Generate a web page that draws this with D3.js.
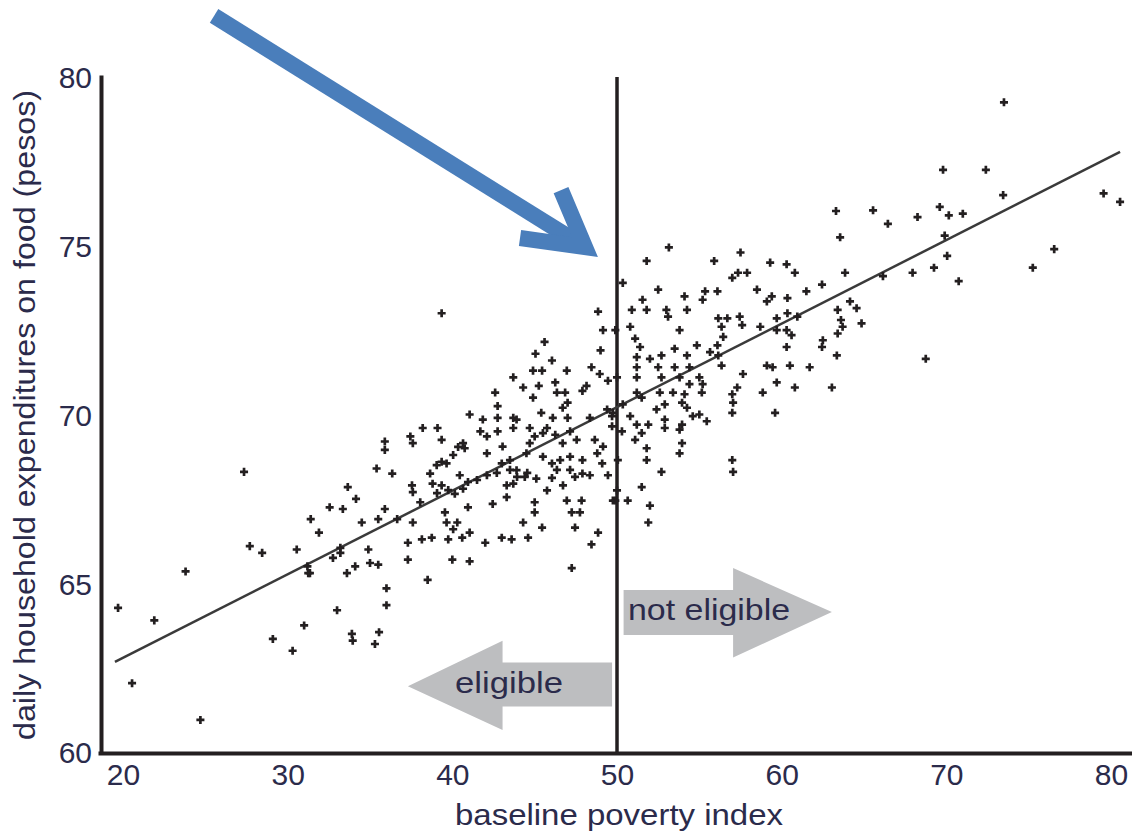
<!DOCTYPE html>
<html>
<head>
<meta charset="utf-8">
<script src="https://cdn.jsdelivr.net/npm/d3@7"></script>
<style>
  body { margin: 0; background: #fff; }
  text { font-family: "Liberation Sans", Arial, sans-serif; fill: #2b2b4b; }
</style>
</head>
<body>
<div id="chart"></div>
<script>
// values
var povertyIndex = [
  19.7, 20.55, 21.9, 23.8, 24.7, 27.35, 27.7, 28.45, 29.1, 30.3, 30.55, 31.0, 31.4, 31.9, 31.35, 32.55, 33.35, 33.65, 34.15, 33.0,
  33.9, 33.95, 33.6, 34.1, 34.9, 35.0, 35.5, 34.5, 35.5, 35.9, 35.55, 35.3, 35.4, 35.9, 35.9, 36.0, 36.0, 32.75, 33.2, 31.2,
  31.25, 33.2,
  39.35, 48.85, 49.15, 49.0, 45.6, 45.05, 46.05, 44.9, 45.45, 46.95, 43.7, 44.3, 44.9, 45.25, 46.25, 46.35, 46.85, 47.0, 46.7, 48.45,
  48.95, 48.15, 47.9, 49.45, 49.4, 49.7, 42.6, 42.75, 41.05, 41.85, 42.75, 43.7, 43.9, 45.4, 46.1, 47.0, 48.35, 41.7, 42.1, 42.75,
  43.7, 44.7, 45.0, 45.75, 46.25, 47.15, 47.55, 48.65, 49.15, 38.2, 39.1, 37.45, 37.6, 39.35, 40.65, 40.75, 43.05, 42.1, 44.7, 40.05,
  39.35, 39.05, 39.65, 44.5, 45.5, 46.05, 46.55, 47.15, 47.9, 48.8, 49.1, 36.35, 38.65, 43.0, 43.5, 43.9, 47.9, 49.45, 45.5, 46.7,
  40.35, 43.5, 42.7, 44.55, 46.35, 47.15,
  37.55, 37.6, 38.8, 39.35, 40.45, 40.95, 40.65, 40.15, 38.05, 36.65, 37.6, 39.55, 39.65, 40.3, 40.05, 41.05, 40.6, 40.95, 42.45, 43.3,
  43.7, 43.3, 44.4, 45.1, 45.75, 45.0, 45.0, 44.3, 45.45, 44.6, 46.95, 47.85, 47.25, 47.75, 47.45, 48.85, 48.45, 47.25, 47.45, 48.35,
  49.75, 37.3, 38.15, 38.75, 39.75, 42.0, 43.0, 43.6, 37.3, 40.0, 41.05, 38.5, 39.07, 39.75, 41.5, 42.1, 43.93, 46.05, 46.72,
  53.15, 51.8, 55.9, 57.5, 59.3, 60.3, 60.8, 63.55, 63.85, 57.35, 57.9, 57.0, 50.35, 52.5, 55.35, 56.1, 55.2, 54.1, 58.5, 59.4,
  59.1, 60.35, 61.5, 62.45, 64.15, 64.55, 51.55, 50.9, 51.8, 53.0, 53.1, 54.25, 56.15, 56.7, 57.45, 57.6, 56.35, 59.7, 60.35, 60.95,
  63.4, 63.6, 63.7, 64.85, 50.8, 49.9, 53.8, 58.7, 59.7, 60.3, 60.6, 56.45, 51.1, 51.4, 63.4, 62.5, 62.45, 60.3, 56.1, 53.5,
  54.85, 55.65, 56.15, 54.25, 52.7, 52.0, 51.2, 63.35, 56.35, 54.4, 53.5, 52.5, 51.2, 59.1, 59.45, 60.5, 61.7, 57.65, 50.0, 51.2,
  52.7, 53.8, 55.0, 54.4, 55.2, 59.7, 57.3, 60.8, 63.05, 58.85, 51.2, 52.6, 53.4, 57.0,
  54.1, 55.15, 57.05, 50.35, 51.5, 52.4, 52.9, 53.95, 54.25, 57.0, 59.6, 49.75, 50.8, 52.9, 54.6, 55.0, 55.45, 51.2, 51.9, 52.9,
  53.95, 53.8, 49.7, 50.3, 51.5, 51.1, 51.8, 53.95, 53.8, 50.05, 51.8, 52.7, 57.0, 57.05, 51.5, 50.0, 49.9, 50.65, 52.0, 51.9,
  73.5, 69.8, 72.4, 73.45, 79.55, 80.55, 65.55, 66.45, 68.25, 69.6, 70.15, 71.0, 69.9, 70.05, 67.95, 69.25, 70.75, 66.15, 76.55, 75.25,
  68.75, 63.3
];

var foodSpending = [
  64.27, 62.04, 63.9, 65.35, 60.95, 68.3, 66.1, 65.9, 63.35, 63.0, 66.0, 63.75, 66.9, 66.5, 65.3, 67.25, 67.2, 67.85, 67.5, 64.2,
  63.5, 63.3, 65.3, 65.5, 66.0, 65.6, 65.55, 66.8, 66.9, 67.2, 63.55, 63.2, 68.4, 69.2, 68.95, 64.85, 64.35, 65.75, 65.9, 65.5,
  65.3, 66.05,
  73.0, 73.05, 72.5, 71.9, 72.15, 71.8, 71.6, 71.3, 71.3, 71.3, 71.1, 70.8, 70.5, 70.85, 70.95, 70.65, 70.65, 70.35, 70.2, 71.4,
  71.2, 70.85, 70.7, 71.0, 70.15, 69.95, 70.65, 70.25, 70.0, 69.85, 69.9, 69.9, 69.85, 70.05, 69.9, 69.9, 69.9, 69.5, 69.35, 69.5,
  69.6, 69.6, 69.35, 69.6, 69.4, 69.5, 69.25, 69.25, 69.05, 69.6, 69.6, 69.35, 69.15, 69.25, 69.15, 69.0, 69.05, 68.85, 69.15, 68.8,
  68.6, 68.5, 68.55, 68.85, 68.75, 68.55, 68.65, 68.75, 68.65, 68.85, 68.55, 68.25, 68.25, 68.55, 68.65, 68.35, 68.25, 68.2, 69.45, 69.15,
  69.04, 68.36, 68.27, 68.27, 68.36, 68.36,
  67.9, 67.7, 67.95, 67.9, 68.2, 68.0, 67.8, 67.65, 67.4, 66.9, 66.8, 67.1, 66.8, 66.8, 66.6, 66.5, 66.35, 67.25, 67.35, 67.9,
  67.95, 67.55, 68.15, 68.1, 67.75, 67.4, 67.1, 66.8, 66.65, 66.35, 67.45, 67.45, 67.1, 67.1, 66.65, 66.5, 66.15, 65.45, 68.15, 68.2,
  67.45, 66.2, 66.3, 66.35, 66.3, 66.2, 66.35, 66.3, 65.7, 65.7, 65.65, 65.1, 67.67, 67.76, 68.06, 68.2, 68.15, 68.12, 67.9,
  74.95, 74.55, 74.55, 74.8, 74.5, 74.45, 74.2, 75.25, 74.2, 74.2, 74.2, 74.05, 73.9, 73.7, 73.65, 73.65, 73.4, 73.5, 73.7, 73.5,
  73.35, 73.45, 73.65, 73.85, 73.35, 73.15, 73.4, 73.1, 73.1, 73.1, 72.9, 73.1, 72.85, 72.85, 72.9, 72.65, 72.6, 72.85, 73.0, 72.9,
  73.1, 72.8, 72.6, 72.7, 72.6, 72.5, 72.5, 72.6, 72.5, 72.5, 72.35, 72.3, 72.25, 72.0, 72.4, 72.2, 72.0, 72.0, 72.05, 71.95,
  72.05, 71.85, 71.75, 71.75, 71.75, 71.65, 71.7, 71.75, 71.45, 71.4, 71.4, 71.4, 71.4, 71.45, 71.4, 71.45, 71.4, 71.2, 71.1, 71.1,
  71.1, 71.1, 71.1, 70.9, 70.9, 70.95, 70.8, 70.8, 70.8, 70.65, 70.65, 70.65, 70.65, 70.6,
  70.6, 70.65, 70.35, 70.3, 70.5, 70.15, 70.3, 70.35, 70.2, 70.05, 70.05, 70.05, 69.95, 69.85, 69.95, 70.0, 69.8, 69.7, 69.7, 69.6,
  69.7, 69.55, 69.65, 69.5, 69.45, 69.25, 69.0, 69.15, 68.85, 68.65, 68.65, 68.3, 68.65, 68.3, 67.85, 67.75, 67.45, 67.45, 67.3, 66.8,
  79.25, 77.25, 77.25, 76.5, 76.55, 76.3, 76.05, 75.65, 75.85, 76.15, 75.9, 75.95, 75.3, 74.7, 74.2, 74.35, 73.95, 74.1, 74.9, 74.35,
  71.65, 76.03
];

// fitted line, end points
var fitX = [19.51, 80.55];
var fitY = [62.67, 77.78];

var xTicks = [20, 30, 40, 50, 60, 70, 80];
var yTicks = [60, 65, 70, 75, 80];
var cutoff = 50;

var svgWidth = 1132;
var svgHeight = 833;

var svg = d3.select("#chart")
  .append("svg")
  .attr("width", svgWidth)
  .attr("height", svgHeight);

// scales
var xScale = d3.scaleLinear()
  .domain([18.603, 81.275])
  .range([100, 1132]);

var yScale = d3.scaleLinear()
  .domain([60, 80])
  .range([752, 77]);

// axes, labels only, thick domain line
var xAxis = d3.axisBottom(xScale).tickValues(xTicks).tickSize(0).tickSizeOuter(0).tickPadding(11);
var yAxis = d3.axisLeft(yScale).tickValues(yTicks).tickSize(0).tickSizeOuter(0).tickPadding(9);

var xAxisG = svg.append("g")
  .attr("transform", "translate(0,753)")
  .call(xAxis);

var yAxisG = svg.append("g")
  .attr("transform", "translate(101,0)")
  .call(yAxis);

[xAxisG, yAxisG].forEach(g => {
  g.select(".domain")
    .attr("stroke", "#231f20")
    .attr("stroke-width", 4)
    .attr("stroke-linecap", "square");
  g.selectAll(".tick text")
    .attr("font-size", 30)
    .attr("fill", "#2b2b4b")
    .attr("font-family", "Liberation Sans, Arial, sans-serif");
});

yAxisG.selectAll(".tick text").attr("dy", "0.36em");

// cutoff line
svg.append("line")
  .attr("x1", xScale(cutoff))
  .attr("x2", xScale(cutoff))
  .attr("y1", yScale(80))
  .attr("y2", yScale(60))
  .attr("stroke", "#231f20")
  .attr("stroke-width", 3.5);

// gray arrows (annotation, in data units)
var rightArrow = [[50.4, 64.8], [57.05, 64.8], [57.05, 65.45], [63.05, 64.15], [57.05, 62.8], [57.05, 63.47], [50.4, 63.47]];
var leftArrow = [[49.7, 62.65], [43.05, 62.65], [43.05, 63.3], [37.3, 61.95], [43.05, 60.65], [43.05, 61.35], [49.7, 61.35]];

svg.selectAll(".gray-arrow")
  .data([rightArrow, leftArrow])
  .enter()
  .append("polygon")
  .attr("class", "gray-arrow")
  .attr("points", d => d.map(p => [xScale(p[0]), yScale(p[1])].join(",")).join(" "))
  .attr("fill", "#bdbec0");

svg.append("text")
  .attr("x", xScale(50.67))
  .attr("y", yScale(63.91))
  .attr("font-size", 30)
  .attr("textLength", 162)
  .attr("lengthAdjust", "spacingAndGlyphs")
  .text("not eligible");

svg.append("text")
  .attr("x", xScale(40.16))
  .attr("y", yScale(61.75))
  .attr("font-size", 30)
  .attr("textLength", 108)
  .attr("lengthAdjust", "spacingAndGlyphs")
  .text("eligible");

// fitted line
svg.append("line")
  .attr("x1", xScale(fitX[0]))
  .attr("y1", yScale(fitY[0]))
  .attr("x2", xScale(fitX[1]))
  .attr("y2", yScale(fitY[1]))
  .attr("stroke", "#3a3a3a")
  .attr("stroke-width", 2.5);

// points
var points = povertyIndex.map((x, i) => ({x: x, y: foodSpending[i]}));
var cross = d3.symbol().type(d3.symbolCross).size(36);

svg.selectAll(".pt")
  .data(points)
  .enter()
  .append("path")
  .attr("class", "pt")
  .attr("d", cross)
  .attr("transform", d => `translate(${xScale(d.x)},${yScale(d.y)})`)
  .attr("fill", "#231f20");

// blue pointer arrow
var blueStart = [25.53, 81.81];
var blueTip = [48.06, 74.96];
var blueArm1 = [44.11, 75.23];
var blueArm2 = [46.6, 76.65];

var toPx = p => [xScale(p[0]), yScale(p[1])];

svg.append("path")
  .attr("d", d3.line()([toPx(blueStart), toPx(blueTip)]))
  .attr("stroke", "#4a7ebb")
  .attr("stroke-width", 16)
  .attr("fill", "none");

svg.append("path")
  .attr("d", d3.line()([toPx(blueArm1), toPx(blueTip), toPx(blueArm2)]))
  .attr("stroke", "#4a7ebb")
  .attr("stroke-width", 16)
  .attr("stroke-linejoin", "miter")
  .attr("fill", "none");

// axis titles
svg.append("text")
  .attr("x", 619)
  .attr("y", 825)
  .attr("text-anchor", "middle")
  .attr("font-size", 29)
  .attr("textLength", 328)
  .attr("lengthAdjust", "spacingAndGlyphs")
  .text("baseline poverty index");

svg.append("text")
  .attr("transform", "translate(35,415) rotate(-90)")
  .attr("text-anchor", "middle")
  .attr("font-size", 30)
  .attr("textLength", 650)
  .attr("lengthAdjust", "spacingAndGlyphs")
  .text("daily household expenditures on food (pesos)");
</script>
</body>
</html>
